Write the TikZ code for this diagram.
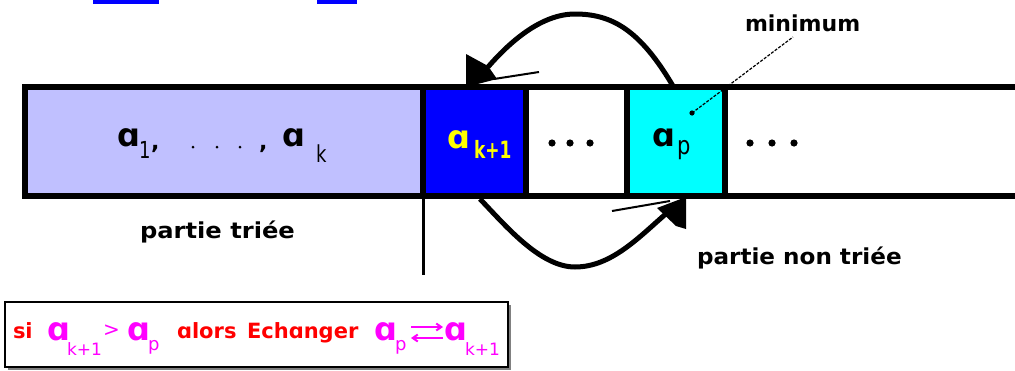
\documentclass[tikz,border=0pt]{standalone}
\usepackage{fontspec}
\setmainfont{DejaVu Sans}
\usetikzlibrary{shadows,calc,arrows.meta}
\definecolor{lav}{RGB}{192,192,255}
\definecolor{mag}{RGB}{255,0,255}
\definecolor{yel}{RGB}{255,255,0}
\definecolor{red0}{RGB}{255,0,0}
\definecolor{cyan0}{RGB}{0,255,255}
\definecolor{blue0}{RGB}{0,0,255}
\newcommand{\bigfnt}{\fontsize{32}{32}\selectfont\bfseries}
\newcommand{\subfnt}{\fontsize{18}{18}\selectfont}
\newcommand{\lblfnt}{\fontsize{22}{22}\selectfont\bfseries}
\begin{document}
\begin{tikzpicture}[x=1pt,y=-1pt,
  every node/.style={inner sep=0pt,outer sep=0pt},
  cell/.style={draw=black,line width=6pt,minimum height=109pt,inner sep=0pt},
  txt/.style={anchor=base west,inner sep=0pt},
  swap/.style={line width=5pt},
  barb/.style={line width=2pt},
  condbox/.style={draw=black,line width=2pt,fill=white,minimum width=503pt,minimum height=65pt,
    drop shadow={shadow xshift=3pt,shadow yshift=-3pt,fill=gray,opacity=1}}]
\useasboundingbox (0,0) rectangle (1015,370);
\clip (0,0) rectangle (1015,370);
% remnants at the top
\fill[blue0] (93,0) rectangle (159,3.5);
\fill[blue0] (317,0) rectangle (357,3.5);
% cells
\node[cell,fill=lav,minimum width=398pt] (sorted) at (224,141.5) {};
\node[cell,fill=blue0,minimum width=103pt] (akone) at (474.5,141.5) {};
\node[cell,fill=white,minimum width=101pt] (gap) at (576.5,141.5) {};
\node[cell,fill=cyan0,minimum width=98pt] (ap) at (676,141.5) {};
\node[cell,fill=white,minimum width=305pt] (rest) at (877.5,141.5) {};
% split line
\coordinate (split) at (423,275);
\draw[line width=3pt] (sorted.south east) -- (split);
% sorted contents
\node[txt] (sa1) at (117,146) {\bigfnt ɑ};
\node[txt] (ss1) at (139,158) {\scalebox{1}[1.3]{\subfnt 1}};
\node[txt] (sc1) at (151,149) {\lblfnt ,};
\fill (193,147) circle (1.5);
\fill (217,147) circle (1.5);
\fill (240,147) circle (1.5);
\node[txt] (sc2) at (259,149) {\lblfnt ,};
\node[txt] (sak) at (282,146) {\bigfnt ɑ};
\node[txt] (ssk) at (316,162) {\scalebox{1}[1.3]{\subfnt k}};
% a_{k+1}
\node[txt,text=yel] (ka) at (447,148) {\bigfnt ɑ};
\node[txt,text=yel] (ks) at (474,158) {\scalebox{1}[1.4]{\fontsize{17}{17}\selectfont\bfseries k+1}};
% dots
\fill (552,143) circle (3.6);
\fill (570,143) circle (3.6);
\fill (590,143) circle (3.6);
\fill (750,143) circle (3.6);
\fill (772,143) circle (3.6);
\fill (794,143) circle (3.6);
% a_p
\node[txt] (pa) at (652,146) {\bigfnt ɑ};
\node[txt] (ps) at (677,154) {\scalebox{1}[1.2]{\fontsize{21}{21}\selectfont p}};
% minimum
\node[txt] (minlab) at (745,31) {\lblfnt minimum};
\coordinate (mindot) at (692,113);
\fill (mindot) circle (2.6);
\draw[line width=1.2pt,dash pattern=on 3pt off 1.5pt] (mindot) -- (793,37);
% top swap arrow
\coordinate (t0) at (673,86);
\coordinate (t1) at (488,67);
\draw[swap] (t0) .. controls (640,30) and (612,14) .. (575,14) .. controls (540,14) and (508,44) .. (t1);
\fill (466,54) -- (488,66) -- (497,79) -- (470,86) -- (466,86) -- cycle;
\draw[barb] (494,79) -- (539,72);
% bottom swap arrow
\coordinate (b0) at (480,199);
\coordinate (b1) at (668,212);
\draw[swap] (b0) .. controls (505,225) and (540,267) .. (575,267) .. controls (612,267) and (640,236) .. (b1);
\fill (657,208) -- (686,197) -- (686,229) -- (676,226) -- cycle;
\draw[barb] (612,211) -- (670,201);
% labels
\node[txt] (ltri) at (140,238) {\lblfnt\scalebox{1.1}[1]{partie triée}};
\node[txt] (lnon) at (697,264) {\lblfnt\scalebox{1.05}[1]{partie non triée}};
% condition box
\node[condbox] (cond) at (256.5,334.5) {};
\node[txt,text=red0] (csi) at (13,338) {\fontsize{21}{21}\selectfont\bfseries si};
\node[txt,text=mag] (c1) at (47,340) {\bigfnt ɑ};
\node[txt,text=mag] (c2) at (67,355) {\fontsize{17}{17}\selectfont k+1};
\node[txt,text=mag] (c3) at (103,336) {\fontsize{20}{20}\selectfont >};
\node[txt,text=mag] (c4) at (127,340) {\bigfnt ɑ};
\node[txt,text=mag] (c5) at (148,350) {\fontsize{18}{18}\selectfont p};
\node[txt,text=red0] (c6) at (177,338) {\fontsize{21}{21}\selectfont\bfseries ɑlors};
\node[txt,text=red0] (c7) at (247,338) {\fontsize{21}{21}\selectfont\bfseries Echɑnger};
\node[txt,text=mag] (c8) at (374,340) {\bigfnt ɑ};
\node[txt,text=mag] (c9) at (395,350) {\fontsize{18}{18}\selectfont p};
\coordinate (ar1) at (411,327);
\coordinate (ar2) at (443,327);
\coordinate (ar3) at (443,338);
\coordinate (ar4) at (411,338);
\draw[mag,line width=2pt,-{Straight Barb[length=5pt,width=7pt]}] (ar1) -- (ar2);
\draw[mag,line width=2pt,-{Straight Barb[length=5pt,width=7pt]}] (ar3) -- (ar4);
\node[txt,text=mag] (c10) at (444,340) {\bigfnt ɑ};
\node[txt,text=mag] (c11) at (465,355) {\fontsize{17}{17}\selectfont k+1};
\end{tikzpicture}
\end{document}
